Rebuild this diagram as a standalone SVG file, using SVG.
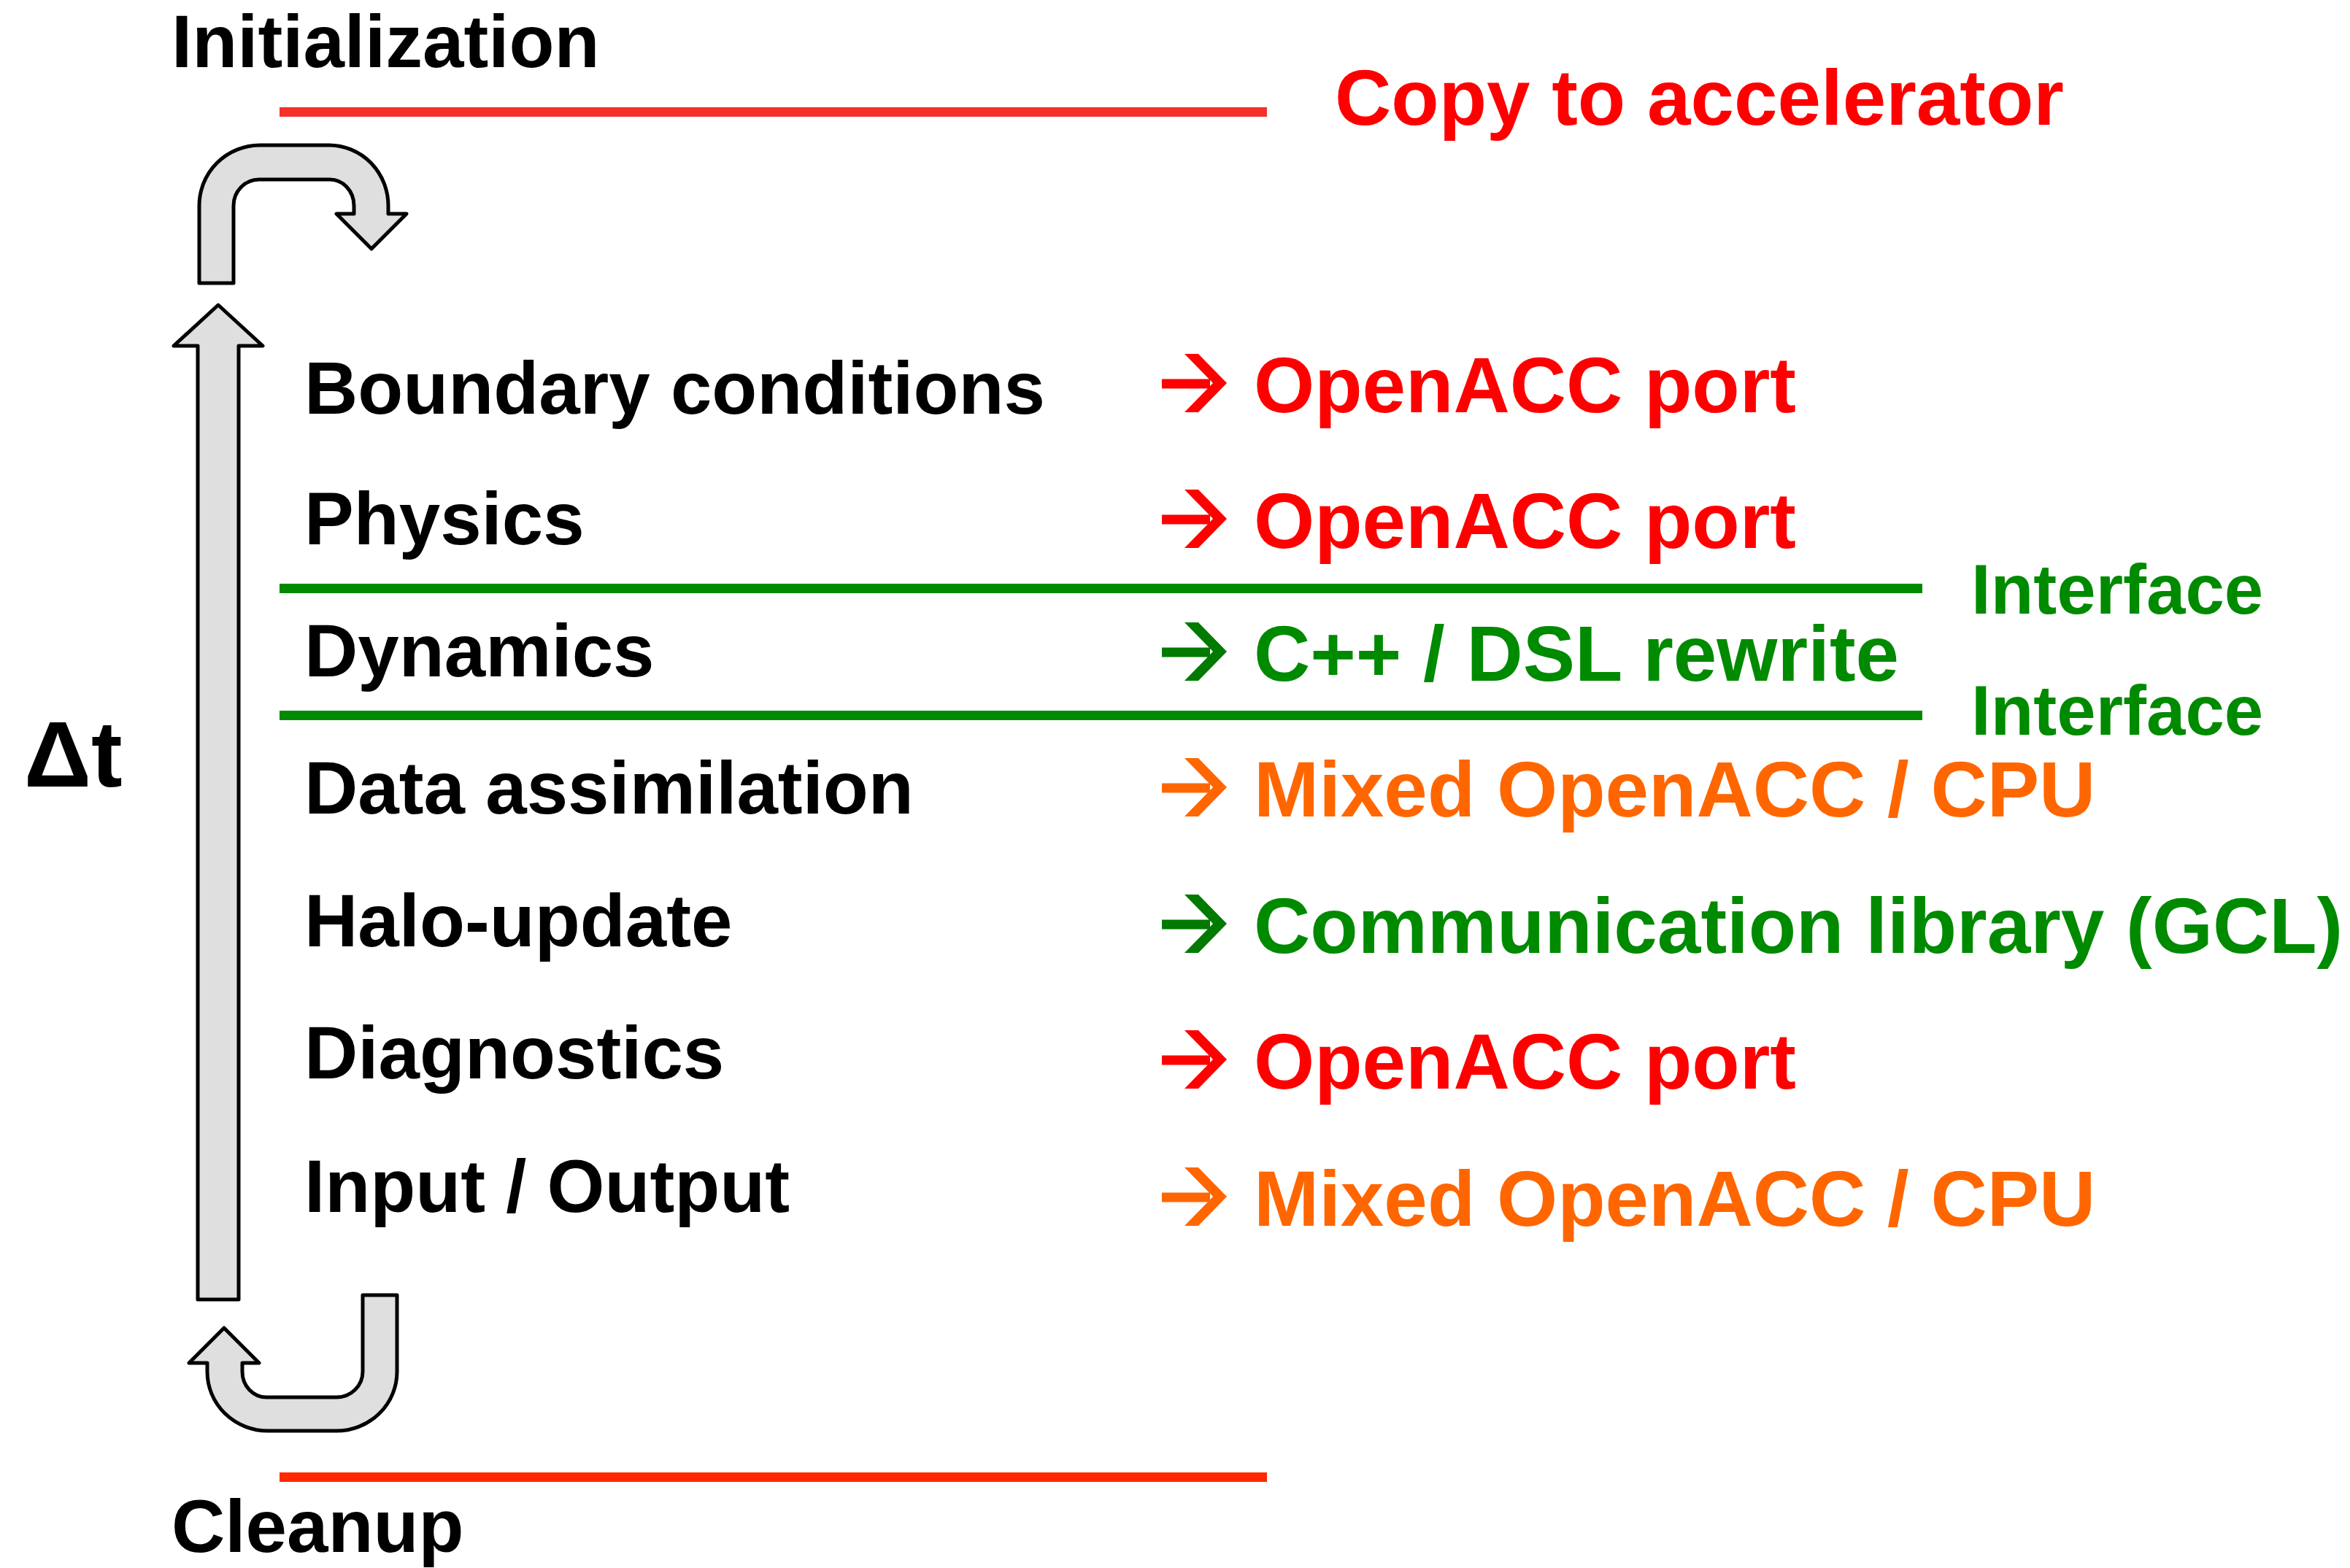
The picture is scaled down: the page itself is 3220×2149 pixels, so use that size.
<svg xmlns="http://www.w3.org/2000/svg" xmlns:xlink="http://www.w3.org/1999/xlink" width="3220" height="2149" viewBox="0 0 3220 2149">
  <style>
    text { font-family: "Liberation Sans", Arial, sans-serif; font-weight: bold; }
    .step { font-size: 101.5px; fill: #000000; }
    .phase { font-size: 101.5px; fill: #000000; }
    .port { font-size: 107px; }
    .iface { font-size: 96px; fill: #008a00; }
    .red { fill: #ff0000; }
    .green { fill: #008a00; }
    .orange { fill: #ff6600; }
    .loop { fill: #dfdfdf; stroke: #000000; stroke-width: 5; stroke-linejoin: round; }
  </style>
  <defs>
    <!-- right-pointing arrow glyph, origin at left end / text baseline -->
    <path id="arr" d="M0 -45.5 H66 V-32.5 H0 Z M31 -80 H50 L89 -40 L50 0 H31 L70 -40 Z"/>
  </defs>
  <rect width="3220" height="2149" fill="#ffffff"/>

  <!-- time-step loop arrows -->
  <g id="connectors">
    <path class="loop" d="M 273 388 V 282 A 83 83 0 0 1 356 199 H 451 A 81 83 0 0 1 532 282 V 293 H 557 L 509 341 L 461 293 H 485 V 282 A 33 36 0 0 0 452 246 H 355 A 35 36 0 0 0 320 282 V 388 Z"/>
    <path class="loop" d="M 271 1781 V 474 H 238 L 299 418 L 360 474 H 327 V 1781 Z"/>
    <path class="loop" d="M 497 1775 H 544 V 1880 A 83 81 0 0 1 461 1961 H 367 A 83 81 0 0 1 284 1880 V 1868 H 259 L 307 1820 L 355 1868 H 332 V 1880 A 33 35 0 0 0 365 1915 H 461 A 36 35 0 0 0 497 1880 Z"/>
  </g>

  <!-- separators -->
  <g id="separators">
    <rect x="383" y="147" width="1353" height="13" fill="#f33129"/>
    <rect x="383" y="2018" width="1353" height="13" fill="#ff2800"/>
    <rect x="383" y="800" width="2251" height="13" fill="#008a00"/>
    <rect x="383" y="974" width="2251" height="13" fill="#008a00"/>
  </g>

  <g id="init">
    <text class="phase" x="235" y="92">Initialization</text>
    <text class="port red" x="1829" y="171">Copy to accelerator</text>
  </g>

  <g id="dt">
    <text x="33" y="1078" font-size="128" fill="#000000">Δt</text>
  </g>

  <g id="boundary">
    <text class="step" x="417" y="567">Boundary conditions</text>
    <use href="#arr" x="1592" y="565" fill="#ff0000"/>
    <text class="port red" x="1718" y="565">OpenACC port</text>
  </g>

  <g id="physics">
    <text class="step" x="417" y="746">Physics</text>
    <use href="#arr" x="1592" y="751" fill="#ff0000"/>
    <text class="port red" x="1718" y="751">OpenACC port</text>
  </g>

  <g id="interface-top">
    <text class="iface" x="2701" y="841">Interface</text>
  </g>

  <g id="dynamics">
    <text class="step" x="417" y="927">Dynamics</text>
    <use href="#arr" x="1592" y="933" fill="#007a00"/>
    <text class="port green" x="1718" y="933">C++ / DSL rewrite</text>
  </g>

  <g id="interface-bottom">
    <text class="iface" x="2701" y="1007">Interface</text>
  </g>

  <g id="assimilation">
    <text class="step" x="417" y="1115">Data assimilation</text>
    <use href="#arr" x="1592" y="1119" fill="#ff6600"/>
    <text class="port orange" x="1718" y="1119">Mixed OpenACC / CPU</text>
  </g>

  <g id="halo">
    <text class="step" x="417" y="1297">Halo-update</text>
    <use href="#arr" x="1592" y="1306" fill="#007a00"/>
    <text class="port green" x="1718" y="1306">Communication library (GCL)</text>
  </g>

  <g id="diagnostics">
    <text class="step" x="417" y="1478">Diagnostics</text>
    <use href="#arr" x="1592" y="1492" fill="#ff0000"/>
    <text class="port red" x="1718" y="1492">OpenACC port</text>
  </g>

  <g id="io">
    <text class="step" x="417" y="1661">Input / Output</text>
    <use href="#arr" x="1592" y="1680" fill="#ff6600"/>
    <text class="port orange" x="1718" y="1680">Mixed OpenACC / CPU</text>
  </g>

  <g id="cleanup">
    <text class="phase" x="235" y="2127">Cleanup</text>
  </g>
</svg>
